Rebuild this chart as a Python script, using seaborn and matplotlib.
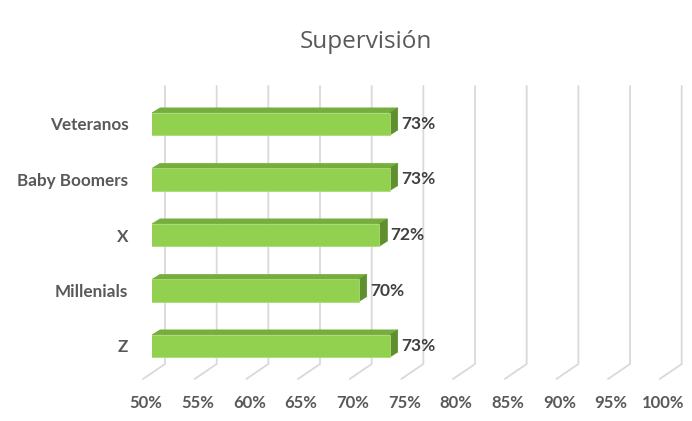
import matplotlib
matplotlib.use("Agg")
import matplotlib.pyplot as plt
import matplotlib.transforms as mtransforms
from matplotlib.patches import Polygon
import numpy as np
import pandas as pd
import seaborn as sns

# Survey results: share of "Supervisión" by generation
categories = ["Veteranos", "Baby Boomers", "X", "Millenials", "Z"]
values = [0.73, 0.73, 0.72, 0.70, 0.73]
tick_values = [0.50, 0.55, 0.60, 0.65, 0.70, 0.75, 0.80, 0.85, 0.90, 0.95, 1.00]
tick_labels = ["50%", "55%", "60%", "65%", "70%", "75%", "80%", "85%", "90%", "95%", "100%"]
title = "Supervisión"

sns.set_theme(style="white")
plt.rcParams["font.family"] = ["Lato", "DejaVu Sans"]

W, H, DPI = 692, 421, 100
fig = plt.figure(figsize=(W / DPI, H / DPI), dpi=DPI)
fig.patch.set_facecolor("white")

# axes placed in pixel terms: x = front plane of the bars, y = category bands
left_px, right_px = 152, 668.7
top_px, bot_px = 96.25, 373.75
ax = fig.add_axes([left_px / W, 1 - bot_px / H, (right_px - left_px) / W, (bot_px - top_px) / H])

df = pd.DataFrame({"gen": categories, "val": values})
FRONT = "#92D050"
TOP = "#76AE3E"
SIDE = "#5F8F2E"
sns.barplot(data=df, x="val", y="gen", orient="h", color=FRONT, width=0.4,
            saturation=1, ax=ax, zorder=3, edgecolor="#A9DC74", linewidth=0.6)

XMIN, XMAX = 0.50, 1.00
ax.set_xlim(XMIN, XMAX)
ax.set_ylim(len(categories) - 0.5, -0.5)
for s in ax.spines.values():
    s.set_visible(False)
ax.set_xlabel("")
ax.set_ylabel("")

# pixel -> data helpers
px_x = (XMAX - XMIN) / (right_px - left_px)
px_y = len(categories) / (bot_px - top_px)

def dy(py):
    return -0.5 + (py - top_px) * px_y

# back wall gridlines with floor step toward the front
back_dx, floor_dx, floor_dy = 13, -22, 15
for t in tick_values:
    xb = t + back_dx * px_x
    xf = xb + floor_dx * px_x
    ax.plot([xb, xb, xf], [dy(86), dy(364), dy(364 + floor_dy)],
            color="#D9D9D9", lw=1.3, clip_on=False, zorder=1,
            solid_joinstyle="miter")

# depth faces of each bar (bars start at the axis minimum)
ddx, ddy = 8 * px_x, -5 * px_y
for p in ax.patches:
    x0, y0 = max(p.get_x(), XMIN), p.get_y()
    x1 = p.get_x() + p.get_width()
    h = p.get_height()
    ytop, ybot = y0, y0 + h  # inverted y: y0 is the upper edge
    top = Polygon([[x0, ytop], [x1, ytop], [x1 + ddx, ytop + ddy], [x0 + ddx, ytop + ddy]],
                  closed=True, facecolor=TOP, edgecolor=TOP, lw=0.5, zorder=2, clip_on=False)
    side = Polygon([[x1, ytop], [x1 + ddx, ytop + ddy], [x1 + ddx, ybot + ddy], [x1, ybot]],
                   closed=True, facecolor=SIDE, edgecolor=SIDE, lw=0.5, zorder=2, clip_on=False)
    ax.add_patch(top)
    ax.add_patch(side)

# value labels
ax.bar_label(ax.containers[0], labels=[f"{v:.0%}" for v in values], padding=8,
             fontsize=12.5, fontweight="bold", color="#404040", zorder=4)

# x ticks along the front edge of the floor
ax.set_xticks(tick_values)
ax.set_xticklabels(tick_labels)
ax.tick_params(axis="x", length=0, pad=15, labelsize=12, labelcolor="#595959")
shift = mtransforms.ScaledTranslation(-6 / DPI, 0, fig.dpi_scale_trans)
for lab in ax.get_xticklabels():
    lab.set_fontweight("bold")
    lab.set_transform(lab.get_transform() + shift)

ax.tick_params(axis="y", length=0, pad=17, labelsize=12.3, labelcolor="#595959")
for lab in ax.get_yticklabels():
    lab.set_fontweight("bold")

fig.text(366 / W, 1 - 42 / H, title, ha="center", va="center",
         fontsize=17.5, color="#595959", family=["Open Sans", "DejaVu Sans"])

fig.savefig("out.png", dpi=DPI, facecolor="white")
